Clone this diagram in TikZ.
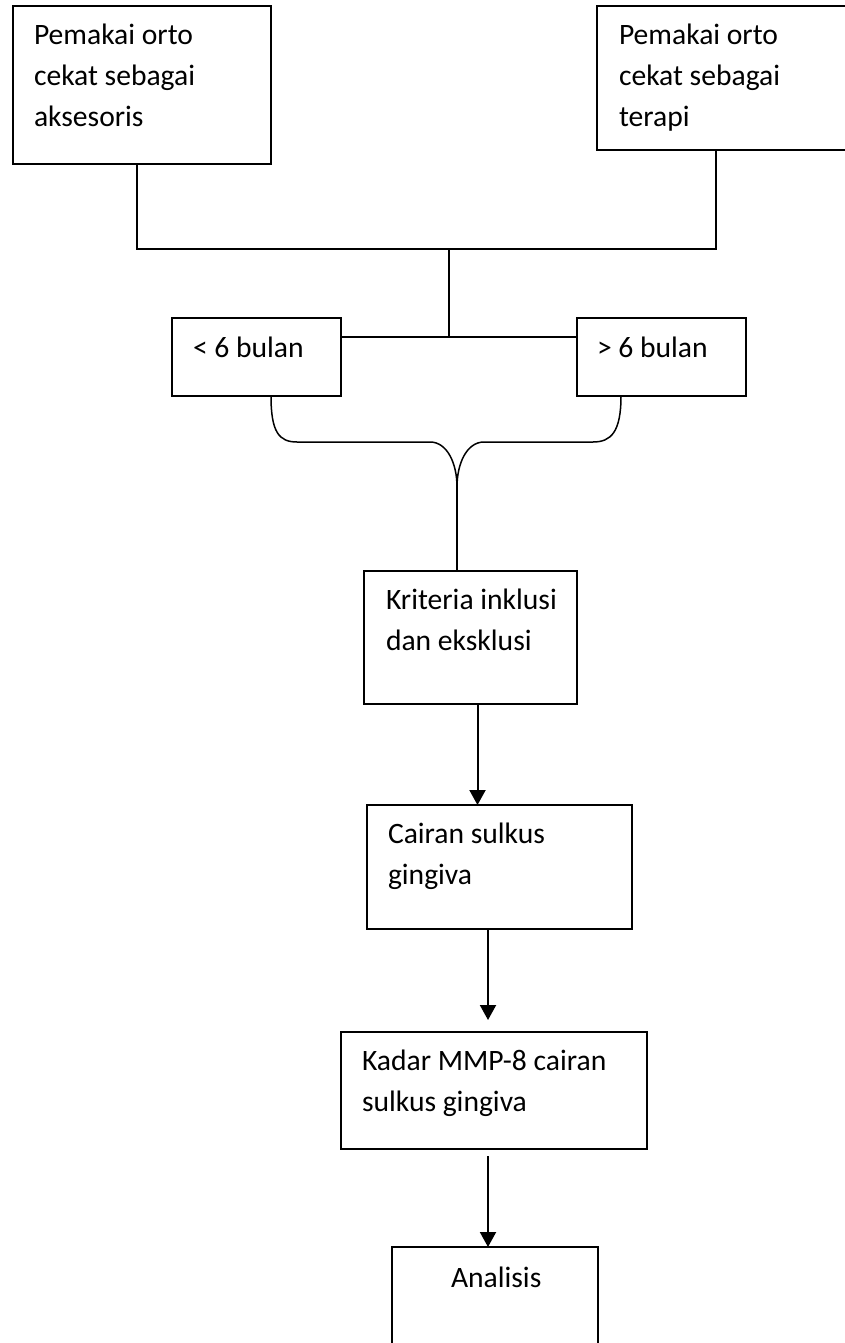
\documentclass[tikz,border=0pt]{standalone}
\usepackage{fontspec}
\setmainfont{Carlito}
\usetikzlibrary{arrows.meta,calc}

\newcommand{\isi}[5]{\begin{minipage}[t][#2pt][t]{#1pt}\setlength{\leftskip}{#4pt}\rule{0pt}{#3pt}#5\end{minipage}}

\begin{document}
\begin{tikzpicture}[x=1pt, y=-1pt, line width=1.5pt,
	font=\fontsize{29.6}{41}\selectfont,
	kotak/.style={draw, anchor=north west, inner sep=0pt, outer sep=0pt},
	panah/.style={line width=2pt, -{Triangle[length=15pt, width=16pt]}}]
	\useasboundingbox (0,0) rectangle (844,1343);
	\node[kotak] (kiri) at (13,6) {\isi{258}{158}{39}{21}{Pemakai orto\\cekat sebagai\\aksesoris}};
	\node[kotak] (kanan) at (597,6) {\isi{260}{144}{39}{22}{Pemakai orto\\cekat sebagai\\terapi}};
	\node[kotak] (kurang) at (172,318) {\isi{169}{78}{39}{21}{< 6 bulan}};
	\node[kotak] (lebih) at (577,318) {\isi{169}{78}{39}{20}{> 6 bulan}};
	\node[kotak] (kriteria) at (364,571) {\isi{213}{133}{38}{22}{Kriteria inklusi\\dan eksklusi}};
	\node[kotak] (cairan) at (367,805) {\isi{265}{124}{38}{21}{Cairan sulkus\\gingiva}};
	\node[kotak] (kadar) at (341,1032) {\isi{306}{117}{38}{21}{Kadar MMP-8 cairan\\sulkus gingiva}};
	\node[kotak] (analisis) at (392,1247) {\isi{206}{120}{40}{59}{Analisis}};

	\coordinate (gabung) at (449,249);
	\coordinate (pisah) at (449,337);
	\coordinate (ujung) at (457,487);
	\draw ($(kiri.south west)+(124,0)$) |- (gabung) -| ($(kanan.south west)+(119,0)$);
	\draw (gabung) -- (pisah);
	\draw (kurang.east |- pisah) -- (lebih.west |- pisah);

	\draw ($(kurang.south west)+(99,0)$) .. controls +(0,36) and +(-18,0) .. (297,442)
		-- (430,442) .. controls +(17,0) and +(0,-24) .. (ujung);
	\draw ($(lebih.south west)+(44,0)$) .. controls +(0,36) and +(18,0) .. (593,442)
		-- (484,442) .. controls +(-17,0) and +(0,-24) .. (ujung);
	\draw (ujung) -- (ujung |- kriteria.north);

	\draw[panah] ($(kriteria.south)+(7,0)$) -- ($(kriteria.south |- cairan.north)+(7,0)$);
	\draw[panah] ($(cairan.south)+(-11.5,0)$) -- ($(cairan.south |- kadar.north)+(-11.5,-12)$);
	\draw[panah] ($(kadar.south)+(-6,7)$) -- ($(kadar.south |- analisis.north)+(-6,0)$);
\end{tikzpicture}
\end{document}
